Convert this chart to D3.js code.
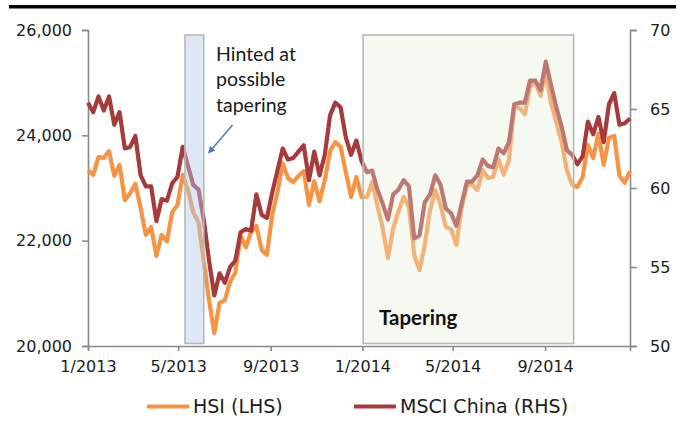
<!DOCTYPE html>
<html>
<head>
<meta charset="utf-8">
<script src="https://cdn.jsdelivr.net/npm/d3@7"></script>
<style>
  html, body { margin: 0; padding: 0; background: #ffffff; }
  svg { display: block; }
</style>
</head>
<body>
<div id="chart"></div>
<script>
// Weekly closes, Jan 2013 – Dec 2014
const startDate = "2013-01-01";
const endDate = "2014-12-23";

// Hang Seng Index (left axis)
const hsiValues = [
  23340, 23250, 23590, 23570, 23700, 23230, 23440, 22770, 22900, 23080,
  22620, 22110, 22260, 21710, 22110, 21990, 22540, 22680, 23250, 22960,
  22540, 22350, 21600, 20870, 20250, 20820, 20870, 21220, 21390, 22090,
  21880, 22160, 22280, 21820, 21730, 22490, 22920, 23470, 23190, 23110,
  23230, 23320, 22680, 23130, 22750, 23150, 23700, 23870, 23780, 23300,
  22830, 23210, 22830, 22830, 23110, 22660, 22240, 21670, 22240, 22560,
  22830, 22640, 21730, 21440, 21920, 22580, 22960, 22680, 22260, 22220,
  21920, 22620, 23060, 23060, 22960, 23340, 23190, 23210, 23550, 23250,
  23530, 24540, 24520, 24400, 24920, 25010, 24750, 25200, 24610, 24250,
  23870, 23340, 23060, 23020, 23210, 23820, 23570, 24030, 23440, 23950,
  23990, 23230, 23100, 23320
];

// MSCI China (right axis)
const msciValues = [
  65.4, 64.8, 65.8, 64.9, 65.8, 64.0, 64.8, 62.5, 62.6, 63.3,
  60.8, 60.1, 60.1, 57.9, 59.3, 59.2, 60.3, 60.7, 62.6, 61.4,
  60.2, 59.9, 58.0, 55.4, 53.2, 54.6, 54.0, 55.0, 55.4, 57.2,
  57.4, 57.3, 59.6, 58.3, 58.1, 59.7, 61.1, 62.5, 61.8, 61.9,
  62.3, 62.7, 60.5, 62.3, 60.8, 62.1, 64.6, 65.4, 65.1, 63.2,
  62.1, 63.0, 61.7, 61.0, 61.1, 59.9, 59.0, 58.0, 59.6, 59.9,
  60.5, 60.1, 56.8, 57.0, 59.1, 59.6, 60.8, 60.2, 58.7, 58.4,
  57.6, 59.0, 60.4, 60.4, 60.8, 61.8, 61.4, 61.3, 62.5, 62.2,
  62.9, 65.3, 65.4, 65.4, 66.8, 66.8, 66.2, 68.0, 66.5, 65.1,
  63.9, 62.4, 62.1, 61.5, 62.0, 64.2, 63.4, 64.5, 62.9, 65.3,
  66.0, 64.0, 64.1, 64.4
];

// Axis ticks
const leftTicks = [20000, 22000, 24000, 26000];
const rightTicks = [50, 55, 60, 65, 70];
const xTickDates = ["2013-01-01", "2013-05-01", "2013-09-01", "2014-01-01", "2014-05-01", "2014-09-01"];

// Shaded periods
const bandStarts = ["2013-05-10", "2014-01-02"];
const bandEnds = ["2013-06-04", "2014-10-09"];
const bandFills = ["#b3c9e8", "#e6efdb"];
const bandOpacity = [0.45, 0.35];

const seriesNames = ["HSI (LHS)", "MSCI China (RHS)"];
const seriesColors = ["#f79443", "#a73a3b"];

const W = 686, H = 423;
const margin = { left: 88, right: 56, top: 30, bottom: 77 };
const parse = d3.utcParse("%Y-%m-%d");

const svg = d3.select("#chart").append("svg")
  .attr("width", W).attr("height", H)
  .attr("viewBox", `0 0 ${W} ${H}`);

svg.append("rect").attr("width", W).attr("height", H).attr("fill", "#ffffff");

// Rule across the top
svg.append("line")
  .attr("x1", 9).attr("x2", 676).attr("y1", 6.8).attr("y2", 6.8)
  .attr("stroke", "#000").attr("stroke-width", 3.6);

const x = d3.scaleUtc()
  .domain([parse(startDate), parse(endDate)])
  .range([margin.left, W - margin.right]);
const yL = d3.scaleLinear().domain([20000, 26000]).range([H - margin.bottom, margin.top]);
const yR = d3.scaleLinear().domain([50, 70]).range([H - margin.bottom, margin.top]);

const dates = hsiValues.map((_, i) => d3.utcWeek.offset(parse(startDate), i));

const axisColor = "#8a8a8a";
const labelFont = "DejaVu Sans, sans-serif";

// Left axis
const gL = svg.append("g").attr("transform", `translate(${margin.left},0)`)
  .call(d3.axisLeft(yL).tickValues(leftTicks).tickFormat(d3.format(",")).tickSize(6).tickPadding(10));
// Right axis
const gR = svg.append("g").attr("transform", `translate(${W - margin.right},0)`)
  .call(d3.axisRight(yR).tickValues(rightTicks).tickSize(7).tickPadding(13));
// Bottom axis
const gX = svg.append("g").attr("transform", `translate(0,${H - margin.bottom})`)
  .call(d3.axisBottom(x).tickValues(xTickDates.map(parse))
    .tickFormat(d => `${d.getUTCMonth() + 1}/${d.getUTCFullYear()}`).tickSize(5).tickPadding(10));

[gL, gR, gX].forEach(g => {
  g.select(".domain").attr("stroke", axisColor).attr("stroke-width", 1.6);
  g.selectAll(".tick line").attr("stroke", axisColor).attr("stroke-width", 1.6);
  g.selectAll(".tick text")
    .attr("font-family", labelFont).attr("font-size", 16).attr("fill", "#1c1c1c");
});

// Series lines
const lineL = d3.line().x((d, i) => x(dates[i])).y(d => yL(d));
const lineR = d3.line().x((d, i) => x(dates[i])).y(d => yR(d));

svg.append("path").datum(hsiValues)
  .attr("d", lineL).attr("fill", "none")
  .attr("stroke", seriesColors[0]).attr("stroke-width", 4.2)
  .attr("stroke-linejoin", "round");
svg.append("path").datum(msciValues)
  .attr("d", lineR).attr("fill", "none")
  .attr("stroke", seriesColors[1]).attr("stroke-width", 4.2)
  .attr("stroke-linejoin", "round");

// Translucent shaded periods over the lines
bandStarts.forEach((s, i) => {
  const x0 = x(parse(s)), x1 = x(parse(bandEnds[i]));
  const top = yL(26000) + 5, bottom = yL(20000) - 2.5;
  svg.append("rect")
    .attr("x", x0).attr("y", top)
    .attr("width", x1 - x0).attr("height", bottom - top)
    .attr("fill", bandFills[i]).attr("fill-opacity", bandOpacity[i])
    .attr("stroke", "#b8b8b8").attr("stroke-width", 1.6);
});

// Annotation for the first shaded period
const note = svg.append("text")
  .attr("font-family", "Lato, sans-serif").attr("font-size", 19.5).attr("fill", "#1a1a1a");
["Hinted at", "possible", "tapering"].forEach((t, i) => {
  note.append("tspan").attr("x", 216).attr("y", 60.5 + i * 25.5).text(t);
});

svg.append("defs").append("marker")
  .attr("id", "arrowhead").attr("viewBox", "0 0 10 10")
  .attr("refX", 8).attr("refY", 5)
  .attr("markerWidth", 4.5).attr("markerHeight", 4.5)
  .attr("orient", "auto")
  .append("path").attr("d", "M0,0 L10,5 L0,10 z").attr("fill", "#4a7fc0");

svg.append("line")
  .attr("x1", 232.5).attr("y1", 125).attr("x2", 209).attr("y2", 152.5)
  .attr("stroke", "#4a7fc0").attr("stroke-width", 1.6)
  .attr("marker-end", "url(#arrowhead)");

svg.append("text")
  .attr("x", 379).attr("y", 325)
  .attr("font-family", "Lato, sans-serif").attr("font-weight", "bold")
  .attr("font-size", 20.5).attr("fill", "#111")
  .text("Tapering");

// Legend
const legendX = [147, 354];
seriesNames.forEach((name, i) => {
  const g = svg.append("g").attr("transform", `translate(${legendX[i]},406.5)`);
  g.append("line").attr("x1", 0).attr("x2", 42).attr("y1", 0).attr("y2", 0)
    .attr("stroke", seriesColors[i]).attr("stroke-width", 4);
  g.append("text").attr("x", 46).attr("y", 6.5)
    .attr("font-family", labelFont).attr("font-size", 19).attr("fill", "#1c1c1c")
    .text(name);
});
</script>
</body>
</html>
